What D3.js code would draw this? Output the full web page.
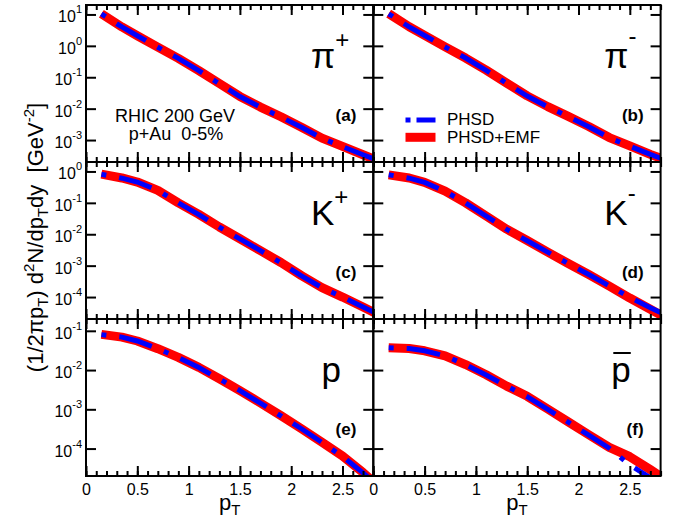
<!DOCTYPE html>
<html><head><meta charset="utf-8">
<script src="https://cdn.jsdelivr.net/npm/d3@7"></script>
<style>
body{margin:0;background:#fff}
svg{display:block}
text{font-family:"Liberation Sans",Arial,Helvetica,sans-serif;fill:#000}
</style>
</head><body>
<svg id="chart" width="676" height="518"></svg>
<script>
// ---------- data ----------
const pT = [0.15, 0.35, 0.5, 0.7, 0.9, 1.1, 1.3, 1.5, 1.7, 1.9, 2.1, 2.3, 2.5, 2.7, 2.85];

const piPlusEMF  = [10.5, 4.0, 2.1, 0.91, 0.40, 0.163, 0.063, 0.0245, 0.0112, 0.0055, 0.00257, 0.00115, 0.00063, 0.00034, 0.00022];
const piPlusPHSD = [10.4, 4.0, 2.1, 0.90, 0.40, 0.162, 0.062, 0.0243, 0.0111, 0.0054, 0.00255, 0.00114, 0.00062, 0.00034, 0.00022];

const piMinusEMF  = [10.6, 4.05, 2.15, 0.93, 0.41, 0.168, 0.065, 0.0255, 0.0116, 0.0057, 0.0027, 0.0012, 0.00065, 0.00035, 0.00023];
const piMinusPHSD = [10.5, 4.0, 2.13, 0.92, 0.41, 0.166, 0.064, 0.0252, 0.0115, 0.0056, 0.00266, 0.00118, 0.00064, 0.00035, 0.00023];

const kPlusEMF  = [0.82, 0.62, 0.46, 0.25, 0.10, 0.043, 0.017, 0.0072, 0.0030, 0.00126, 0.00048, 0.00020, 1.0e-4, 4.8e-5, 2.75e-5];
const kPlusPHSD = [0.81, 0.61, 0.46, 0.25, 0.10, 0.042, 0.0168, 0.0071, 0.0030, 0.00124, 0.00047, 0.00020, 1.0e-4, 4.8e-5, 2.8e-5];

const kMinusEMF  = [0.78, 0.62, 0.45, 0.235, 0.10, 0.038, 0.0145, 0.0063, 0.0027, 0.00117, 0.00052, 0.000224, 9.3e-5, 4.1e-5, 2.2e-5];
const kMinusPHSD = [0.78, 0.61, 0.45, 0.232, 0.099, 0.038, 0.0143, 0.0062, 0.0027, 0.00116, 0.00052, 0.000226, 9.8e-5, 4.6e-5, 2.7e-5];

const protonEMF  = [0.081, 0.069, 0.055, 0.035, 0.021, 0.0117, 0.0060, 0.0030, 0.00145, 0.00069, 0.00032, 0.000145, 6.5e-5, 2.45e-5, 1.1e-5];
const protonPHSD = [0.080, 0.069, 0.055, 0.035, 0.021, 0.0116, 0.0059, 0.0030, 0.00143, 0.00068, 0.00032, 0.000143, 6.3e-5, 2.4e-5, 1.1e-5];

const antiProtonEMF  = [0.037, 0.0355, 0.031, 0.023, 0.0138, 0.0076, 0.0039, 0.00214, 0.00102, 0.00048, 0.000224, 0.000107, 6.2e-5, 2.9e-5, 1.6e-5];
const antiProtonPHSD = [0.037, 0.0355, 0.031, 0.023, 0.0137, 0.0075, 0.0039, 0.0021, 0.00100, 0.00047, 0.00022, 0.000102, 3.8e-5, 1.8e-5, 1.0e-5];

const xMajorTicks = [0, 0.5, 1, 1.5, 2, 2.5];
const xMinorTicks = d3.range(0, 2.81, 0.1);
const xTickLabels = ["0", "0.5", "1", "1.5", "2", "2.5"];
const yTicksRow = [[10, 1, 0.1, 0.01, 0.001], [1, 0.1, 0.01, 0.001, 1e-4], [0.1, 0.01, 0.001, 1e-4]];
const yDomainsRow = [[2e-4, 20], [2e-5, 2], [2e-5, 0.2]];
const xDomain = [0, 2.8];

const panelNames = ["π", "π", "K", "K", "p", "p"];
const panelSups  = ["+", "-", "+", "-", "", ""];
const panelBars  = [false, false, false, false, false, true];
const panelTags  = ["(a)", "(b)", "(c)", "(d)", "(e)", "(f)"];
const emfSeries  = [piPlusEMF, piMinusEMF, kPlusEMF, kMinusEMF, protonEMF, antiProtonEMF];
const phsdSeries = [piPlusPHSD, piMinusPHSD, kPlusPHSD, kMinusPHSD, protonPHSD, antiProtonPHSD];
const legendLabels = ["PHSD", "PHSD+EMF"];

// ---------- layout ----------
const svg = d3.select("#chart");
const colLeft = [86, 373.3], W = 287.3;
const rowTop = [5, 162, 319], H = 157;
const RED = "#ff0000", BLUE = "#0000ff";

const defs = svg.append("defs");

for (let i = 0; i < 6; i++) {
  const col = i % 2, row = Math.floor(i / 2);
  const x0 = colLeft[col], y0 = rowTop[row];
  const x = d3.scaleLinear().domain(xDomain).range([x0, x0 + W]);
  const y = d3.scaleLog().domain(yDomainsRow[row]).range([y0 + H, y0]);
  const g = svg.append("g");

  defs.append("clipPath").attr("id", "clip" + i)
    .append("rect").attr("x", x0).attr("y", y0).attr("width", W).attr("height", H);

  const line = d3.line().x((d, k) => x(pT[k])).y(d => y(d));
  const cg = g.append("g").attr("clip-path", `url(#clip${i})`);
  cg.append("path").datum(emfSeries[i]).attr("d", line)
    .attr("fill", "none").attr("stroke", RED).attr("stroke-width", 9).attr("stroke-linejoin", "round");
  cg.append("path").datum(phsdSeries[i]).attr("d", line)
    .attr("fill", "none").attr("stroke", BLUE).attr("stroke-width", 5)
    .attr("stroke-dasharray", "5,13,34,13");

  // axes (ticks pointing inward on all four sides)
  const styleAxis = sel => {
    sel.select(".domain").remove();
    sel.selectAll(".tick line").attr("stroke", "#000").attr("stroke-width", 2);
  };
  const bottomMaj = d3.axisBottom(x).tickValues(xMajorTicks).tickSize(-10).tickPadding(8)
    .tickFormat((d, k) => row === 2 ? xTickLabels[k] : "");
  g.append("g").attr("transform", `translate(0,${y0 + H})`).call(bottomMaj).call(styleAxis)
    .selectAll("text").attr("font-size", 16).attr("font-family", '"Liberation Sans",Arial,sans-serif');
  g.append("g").attr("transform", `translate(0,${y0 + H})`)
    .call(d3.axisBottom(x).tickValues(xMinorTicks).tickSize(-5).tickFormat("")).call(styleAxis);
  g.append("g").attr("transform", `translate(0,${y0})`)
    .call(d3.axisTop(x).tickValues(xMajorTicks).tickSize(-10).tickFormat("")).call(styleAxis);
  g.append("g").attr("transform", `translate(0,${y0})`)
    .call(d3.axisTop(x).tickValues(xMinorTicks).tickSize(-5).tickFormat("")).call(styleAxis);
  g.append("g").attr("transform", `translate(${x0},0)`)
    .call(d3.axisLeft(y).tickValues(yTicksRow[row]).tickSize(-10).tickFormat("")).call(styleAxis);
  g.append("g").attr("transform", `translate(${x0 + W},0)`)
    .call(d3.axisRight(y).tickValues(yTicksRow[row]).tickSize(-10).tickFormat("")).call(styleAxis);

  // y tick labels on left column
  if (col === 0) {
    yTicksRow[row].forEach(v => {
      const t = g.append("text").attr("x", x0 - 4).attr("y", y(v) + 8).attr("text-anchor", "end");
      t.append("tspan").attr("font-size", 16).text("10");
      t.append("tspan").attr("font-size", 11).attr("dy", -9).text(String(Math.round(Math.log10(v))));
    });
  }

  // frame
  g.append("rect").attr("x", x0).attr("y", y0).attr("width", W).attr("height", H)
    .attr("fill", "none").attr("stroke", "#000").attr("stroke-width", 2);

  // particle label
  const isP = panelNames[i] === "p";
  const px = x0 + (isP ? (col === 0 ? 235.5 : 238) : (col === 0 ? 225 : 231));
  const lt = g.append("text").attr("x", px).attr("y", y0 + 63).attr("font-size", 35);
  lt.append("tspan").text(panelNames[i]);
  if (panelSups[i]) {
    lt.append("tspan").attr("font-size", 24).attr("dy", panelSups[i] === "+" ? -20 : -24).text(panelSups[i]);
  }
  if (panelBars[i]) {
    const len = lt.node().getComputedTextLength();
    g.append("line").attr("x1", px + 2).attr("x2", px + len).attr("y1", y0 + 34).attr("y2", y0 + 34)
      .attr("stroke", "#000").attr("stroke-width", 2);
  }
  // panel tag
  g.append("text").attr("x", x0 + W - 17).attr("y", y0 + 116).attr("text-anchor", "end")
    .attr("font-size", 17).attr("font-weight", "bold").text(panelTags[i]);
}

// annotation in (a)
svg.append("text").attr("x", 175).attr("y", 121.7).attr("text-anchor", "middle").attr("font-size", 18)
  .text("RHIC 200 GeV");
svg.append("text").attr("x", 176).attr("y", 140).attr("text-anchor", "middle").attr("font-size", 18)
  .text("p+Au\u00a0\u00a00-5%");

// legend in (b)
const lg = svg.append("g");
lg.append("line").attr("x1", 405.5).attr("x2", 435.5).attr("y1", 120).attr("y2", 120)
  .attr("stroke", BLUE).attr("stroke-width", 5).attr("stroke-dasharray", "5,6,40");
lg.append("line").attr("x1", 405.5).attr("x2", 435.5).attr("y1", 137.3).attr("y2", 137.3)
  .attr("stroke", RED).attr("stroke-width", 9);
lg.append("text").attr("x", 447).attr("y", 125).attr("font-size", 17).text(legendLabels[0]);
lg.append("text").attr("x", 447).attr("y", 143).attr("font-size", 17).text(legendLabels[1]);

// x axis titles
[0, 1].forEach(col => {
  const t = svg.append("text").attr("x", colLeft[col] + W / 2).attr("y", 510)
    .attr("text-anchor", "middle").attr("font-size", 22);
  t.append("tspan").text("p");
  t.append("tspan").attr("font-size", 15).attr("dy", 5).text("T");
});

// y axis title
const yt = svg.append("text").attr("transform", "translate(43,237.5) rotate(-90)")
  .attr("text-anchor", "middle").attr("font-size", 22);
yt.append("tspan").text("(1/2πp");
yt.append("tspan").attr("font-size", 15).attr("dy", 5).text("T");
yt.append("tspan").attr("dy", -5).text(") d");
yt.append("tspan").attr("font-size", 15).attr("dy", -9).text("2");
yt.append("tspan").attr("dy", 9).text("N/dp");
yt.append("tspan").attr("font-size", 15).attr("dy", 5).text("T");
yt.append("tspan").attr("dy", -5).text("dy\u00a0\u00a0[GeV");
yt.append("tspan").attr("font-size", 15).attr("dy", -9).text("-2");
yt.append("tspan").attr("dy", 9).text("]");
</script>
</body></html>
